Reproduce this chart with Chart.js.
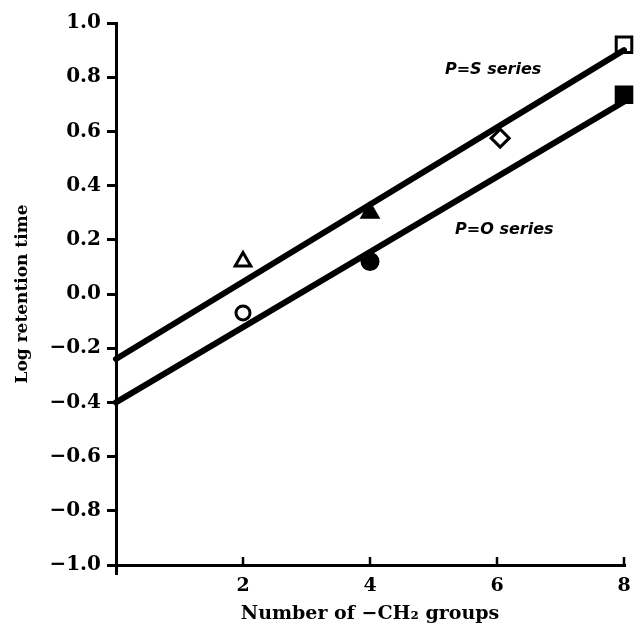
<!DOCTYPE html>
<html><head><meta charset="utf-8">
<script src="https://cdn.jsdelivr.net/npm/chart.js@4"></script>
<style>html,body{margin:0;padding:0;background:#fff}#w{width:634px;height:625px}</style>
</head><body><div id="w"><canvas id="c" width="634" height="625"></canvas></div>
<script>
// x-axis ticks and y-axis ticks
const xTicks = [0, 2, 4, 6, 8];
const yTicks = [-1.0, -0.8, -0.6, -0.4, -0.2, 0.0, 0.2, 0.4, 0.6, 0.8, 1.0];
// fitted lines
const psLineX = [0, 8];
const psLineY = [-0.24, 0.90];
const poLineX = [0, 8];
const poLineY = [-0.40, 0.71];
// P=S series points
const psOpenTriX = [2], psOpenTriY = [0.12];
const psFilledTriX = [4], psFilledTriY = [0.30];
const psDiamondX = [6.05], psDiamondY = [0.575];
const psOpenSqX = [8], psOpenSqY = [0.92];
// P=O series points
const poOpenCircX = [2], poOpenCircY = [-0.07];
const poFilledCircX = [4], poFilledCircY = [0.12];
const poFilledSqX = [8], poFilledSqY = [0.735];
// labels
const seriesLabels = [
  {text: 'P=S series', x: 5.18, y: 0.826},
  {text: 'P=O series', x: 5.34, y: 0.236}
];

const pts = (xs, ys) => xs.map((x, i) => ({x, y: ys[i]}));
const serif = '"DejaVu Serif", serif';

function marker(xs, ys, style, filled, r) {
  return {type: 'scatter', data: pts(xs, ys), pointStyle: style, pointRadius: r, pointHoverRadius: r,
    backgroundColor: filled ? '#000' : '#fff', borderColor: '#000', borderWidth: 3, showLine: false, clip: false};
}
function line(xs, ys) {
  return {type: 'line', data: pts(xs, ys), borderColor: '#000', borderWidth: 6, pointRadius: 0,
    borderCapStyle: 'round', fill: false, clip: false};
}

const annot = {
  id: 'annot',
  afterDraw(chart) {
    const {ctx, scales: {x, y}} = chart;
    ctx.save();
    // inward x ticks
    ctx.strokeStyle = '#000'; ctx.lineWidth = 2.5;
    xTicks.forEach(v => {
      if (v === 0) return;
      const px = x.getPixelForValue(v);
      ctx.beginPath(); ctx.moveTo(px, y.bottom); ctx.lineTo(px, y.bottom - 8); ctx.stroke();
    });
    ctx.fillStyle = '#000';
    ctx.font = 'italic bold 16px "DejaVu Sans", sans-serif';
    ctx.textBaseline = 'middle';
    seriesLabels.forEach(l => ctx.fillText(l.text, x.getPixelForValue(l.x), y.getPixelForValue(l.y)));
    ctx.restore();
  }
};

new Chart(document.getElementById('c'), {
  data: {datasets: [
    line(psLineX, psLineY),
    line(poLineX, poLineY),
    marker(psOpenTriX, psOpenTriY, 'triangle', false, 9),
    marker(psFilledTriX, psFilledTriY, 'triangle', true, 9),
    marker(psDiamondX, psDiamondY, 'rectRot', false, 9),
    marker(psOpenSqX, psOpenSqY, 'rect', false, 11),
    marker(poOpenCircX, poOpenCircY, 'circle', false, 7),
    marker(poFilledCircX, poFilledCircY, 'circle', true, 8),
    marker(poFilledSqX, poFilledSqY, 'rect', true, 11)
  ]},
  options: {
    responsive: false, animation: false,
    layout: {autoPadding: false, padding: {left: 12, right: 10, top: 23, bottom: 0}},
    plugins: {legend: {display: false}, tooltip: {enabled: false}},
    scales: {
      x: {type: 'linear', min: 0, max: 8,
        afterBuildTicks: s => { s.ticks = xTicks.map(v => ({value: v})); },
        afterFit: s => { s.height = 60; },
        border: {display: true, color: '#000', width: 3},
        grid: {drawOnChartArea: false, tickLength: 10, lineWidth: 3,
          color: c => (c.tick && c.tick.value === 0) ? '#000' : 'rgba(0,0,0,0)'},
        ticks: {color: '#000', padding: 0, maxRotation: 0,
          font: {family: serif, weight: 'bold', size: 19},
          callback: v => v === 0 ? '' : String(v)},
        title: {display: true, text: 'Number of −CH₂ groups', color: '#000', padding: {top: 0, bottom: 0},
          font: {family: serif, weight: 'bold', size: 19}}
      },
      y: {type: 'linear', min: -1, max: 1,
        afterBuildTicks: s => { s.ticks = yTicks.map(v => ({value: v})); },
        afterFit: s => { s.width = 104; },
        border: {display: true, color: '#000', width: 3},
        grid: {drawOnChartArea: false, tickLength: 9, lineWidth: 3, color: '#000'},
        ticks: {color: '#000', padding: 6,
          font: {family: serif, weight: 'bold', size: 20},
          callback: v => (v < 0 ? '−' : '') + Math.abs(v).toFixed(1)},
        title: {display: true, text: 'Log retention time', color: '#000', padding: {top: 0, bottom: 4},
          font: {family: serif, weight: 'bold', size: 17}}
      }
    }
  },
  plugins: [annot]
});
</script></body></html>
